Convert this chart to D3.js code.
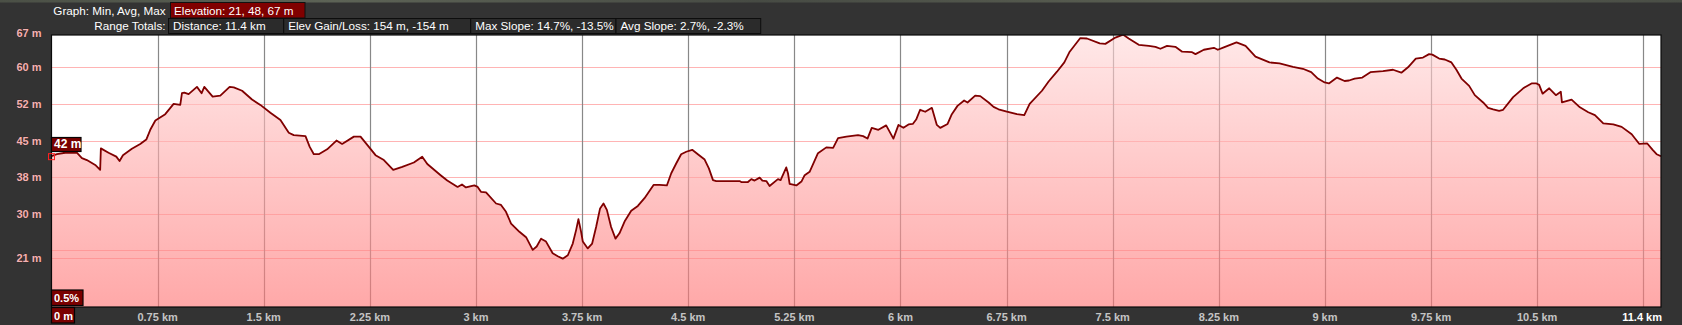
<!DOCTYPE html>
<html>
<head>
<meta charset="utf-8">
<script src="https://cdn.jsdelivr.net/npm/d3@7"></script>
<style>
  html, body { margin: 0; padding: 0; background: #333333; overflow: hidden; }
  svg { display: block; font-family: "Liberation Sans", Arial, sans-serif; }
</style>
</head>
<body>
<div id="chart"></div>
<script>
// elevation profile (km, m)
const distKm = [
  0.000, 0.038, 0.097, 0.179, 0.215, 0.250, 0.309, 0.344, 0.349, 0.403,
  0.458, 0.481, 0.505, 0.568, 0.627, 0.670, 0.698, 0.734, 0.804, 0.863,
  0.910, 0.922, 0.939, 0.969, 1.028, 1.061, 1.080, 1.139, 1.193, 1.259,
  1.288, 1.347, 1.417, 1.476, 1.547, 1.618, 1.677, 1.712, 1.795, 1.825,
  1.854, 1.889, 1.948, 2.014, 2.054, 2.137, 2.184, 2.243, 2.290, 2.349,
  2.415, 2.479, 2.561, 2.620, 2.656, 2.750, 2.797,
  2.870, 2.901, 2.929, 2.988, 3.012, 3.035, 3.071, 3.142, 3.177, 3.212,
  3.248, 3.307, 3.354, 3.401, 3.429, 3.460, 3.495, 3.542, 3.578, 3.613,
  3.649, 3.684, 3.708, 3.724, 3.743, 3.755, 3.790, 3.821, 3.849, 3.877,
  3.901, 3.925, 3.955, 3.986, 4.014, 4.050, 4.097, 4.144, 4.191, 4.255,
  4.297, 4.349, 4.380, 4.415, 4.450, 4.486, 4.528, 4.568, 4.616, 4.646,
  4.675, 4.698, 4.863, 4.875, 4.922, 4.946, 4.969, 5.005, 5.024, 5.052,
  5.075, 5.134, 5.153, 5.193, 5.205, 5.217, 5.264, 5.300, 5.323, 5.358,
  5.417, 5.476, 5.524, 5.559, 5.618, 5.700, 5.736,
  5.767, 5.797, 5.844, 5.899, 5.950, 5.986, 6.021, 6.057, 6.087, 6.111,
  6.139, 6.175, 6.222, 6.257, 6.281, 6.333, 6.363, 6.403, 6.450, 6.474,
  6.528, 6.564, 6.623, 6.658, 6.693, 6.752, 6.823, 6.875, 6.913, 7.000,
  7.047, 7.106, 7.158, 7.196, 7.271, 7.318, 7.408, 7.448, 7.519, 7.573,
  7.613, 7.684, 7.755, 7.802, 7.837, 7.884, 7.943, 7.991, 8.061, 8.085,
  8.144, 8.215, 8.243, 8.285, 8.375, 8.439, 8.509,
  8.608, 8.679, 8.774, 8.844, 8.903, 8.950, 8.998, 9.028, 9.085, 9.139,
  9.170, 9.210, 9.264, 9.321, 9.410, 9.481, 9.540, 9.587, 9.642, 9.693,
  9.736, 9.759, 9.807, 9.847, 9.894, 9.929, 9.965, 10.019, 10.059, 10.118,
  10.153, 10.189, 10.231, 10.259, 10.330, 10.401, 10.460, 10.495, 10.514, 10.538,
  10.585, 10.632, 10.667, 10.675, 10.743, 10.802, 10.861, 10.908, 10.967, 11.038,
  11.097, 11.168, 11.222, 11.278, 11.316, 11.344, 11.375
];
const elevM = [
  41.8, 42.2, 42.5, 42.5, 41.4, 41.0, 40.0, 39.0, 43.4, 42.5,
  41.7, 40.8, 42.0, 43.3, 44.3, 45.2, 47.2, 49.1, 50.4, 52.5,
  52.3, 54.7, 54.8, 54.5, 56.0, 54.7, 56.0, 54.0, 54.2, 56.0,
  55.9, 55.2, 53.4, 52.3, 50.7, 49.2, 46.6, 46.1, 45.9, 43.7,
  42.2, 42.2, 43.2, 45.0, 44.3, 45.8, 45.8, 43.7, 42.0, 41.0,
  39.0, 39.6, 40.5, 41.7, 40.2, 37.9, 36.8,
  35.5, 36.0, 35.4, 35.8, 35.5, 34.5, 34.4, 32.1, 31.8, 30.4,
  28.0, 26.3, 25.2, 22.6, 23.3, 24.9, 24.3, 21.9, 21.3, 20.8,
  21.5, 23.9, 26.7, 28.9, 26.3, 24.3, 22.9, 23.9, 27.3, 31.1,
  32.1, 30.8, 27.3, 24.9, 26.0, 28.4, 30.6, 31.6, 33.2, 35.9,
  35.9, 35.8, 38.3, 40.3, 42.2, 42.7, 43.1, 42.2, 41.1, 39.3,
  36.9, 36.7, 36.7, 36.5, 36.5, 37.1, 36.8, 37.4, 36.8, 36.7,
  35.7, 37.1, 36.9, 39.5, 38.3, 36.1, 35.8, 36.6, 37.9, 38.6,
  42.4, 43.6, 43.5, 45.5, 45.8, 46.1, 45.9,
  45.4, 47.6, 47.2, 48.1, 45.4, 48.2, 47.6, 48.3, 48.4, 49.3,
  51.3, 50.9, 51.7, 48.2, 47.6, 48.4, 50.4, 52.1, 53.2, 52.8,
  54.2, 54.1, 52.8, 51.9, 51.4, 50.9, 50.4, 50.2, 52.5, 55.2,
  57.1, 59.1, 61.0, 63.2, 66.0, 65.9, 64.9, 64.8, 66.1, 66.7,
  65.9, 64.6, 64.4, 64.2, 63.8, 64.4, 64.2, 63.2, 63.1, 62.7,
  63.6, 64.0, 63.6, 64.1, 65.1, 64.4, 62.2,
  61.0, 60.8, 60.1, 59.7, 59.0, 57.7, 56.9, 56.7, 57.9, 57.2,
  57.3, 57.7, 57.9, 59.0, 59.2, 59.5, 58.9, 60.0, 61.8, 62.0,
  62.7, 62.6, 61.8, 61.6, 61.0, 59.5, 57.7, 56.2, 54.3, 52.8,
  51.7, 51.4, 51.1, 51.3, 53.9, 55.7, 56.7, 56.7, 56.4, 54.6,
  55.7, 54.3, 55.0, 52.8, 53.4, 51.8, 50.8, 50.2, 48.5, 48.3,
  47.8, 46.3, 44.3, 44.4, 43.1, 42.2, 41.8
];

// axis ticks
const xTicks = [0.75, 1.5, 2.25, 3, 3.75, 4.5, 5.25, 6, 6.75, 7.5, 8.25, 9, 9.75, 10.5, 11.25];
const xTickLabels = ["0.75 km", "1.5 km", "2.25 km", "3 km", "3.75 km", "4.5 km", "5.25 km",
  "6 km", "6.75 km", "7.5 km", "8.25 km", "9 km", "9.75 km", "10.5 km", ""];
const yTicks = [60, 52.5, 45, 37.5, 30, 22.5];
const yTickLabels = ["60 m", "52 m", "45 m", "38 m", "30 m", ""];
const minMaxValues = [21, 67];
const minMaxLabels = ["21 m", "67 m"];

// header boxes
const headerRow1 = ["Elevation: 21, 48, 67 m"];
const headerRow2 = ["Distance: 11.4 km", "Elev Gain/Loss: 154 m, -154 m",
  "Max Slope: 14.7%, -13.5%", "Avg Slope: 2.7%, -2.3%"];
const headerRow2Edges = [168.5, 283.7, 470.7, 616, 760.7];

const W = 1682, H = 325;
const plot = { left: 51.5, right: 1661, top: 35, bottom: 307 };

const data = distKm.map((d, i) => ({ km: d, m: elevM[i] }));

const x = d3.scaleLinear().domain([0, 11.375]).range([plot.left, plot.right]);
const y = d3.scaleLinear().domain([10.9, 66.62]).range([plot.bottom, plot.top]);

const svg = d3.select("#chart").append("svg")
  .attr("width", W)
  .attr("height", H);

svg.append("rect").attr("width", W).attr("height", H).attr("fill", "#333333");

const defs = svg.append("defs");

// thin map strip at very top
const strip = defs.append("linearGradient").attr("id", "strip");
[["0%", "#4b5046"], ["20%", "#5d6356"], ["45%", "#474b44"], ["70%", "#5a5f52"], ["100%", "#4a4e46"]]
  .forEach(s => strip.append("stop").attr("offset", s[0]).attr("stop-color", s[1]));
svg.append("rect").attr("x", 0).attr("y", 0).attr("width", W).attr("height", 2.5)
  .attr("fill", "url(#strip)");

const fillGrad = defs.append("linearGradient")
  .attr("id", "fillGrad")
  .attr("gradientUnits", "userSpaceOnUse")
  .attr("x1", 0).attr("x2", 0)
  .attr("y1", plot.top).attr("y2", plot.bottom);
fillGrad.append("stop").attr("offset", "0%").attr("stop-color", "rgb(255,218,218)").attr("stop-opacity", 0.62);
fillGrad.append("stop").attr("offset", "100%").attr("stop-color", "rgb(255,115,115)").attr("stop-opacity", 0.62);

defs.append("clipPath").attr("id", "plotClip")
  .append("rect")
  .attr("x", plot.left).attr("y", plot.top)
  .attr("width", plot.right - plot.left).attr("height", plot.bottom - plot.top);

// header
const headFont = "11.7px";

svg.append("text")
  .attr("x", 165.5).attr("y", 14.5)
  .attr("text-anchor", "end")
  .attr("fill", "#ffffff")
  .style("font-size", headFont)
  .text("Graph: Min, Avg, Max");

svg.append("text")
  .attr("x", 165.5).attr("y", 30.2)
  .attr("text-anchor", "end")
  .attr("fill", "#ffffff")
  .style("font-size", headFont)
  .text("Range Totals:");

svg.append("rect")
  .attr("x", 170.5).attr("y", 2.5).attr("width", 134.5).attr("height", 15.5)
  .attr("fill", "#800000").attr("stroke", "#111").attr("stroke-width", 1);
svg.append("text")
  .attr("x", 174).attr("y", 14.5)
  .attr("fill", "#ffffff")
  .style("font-size", headFont)
  .text(headerRow1[0]);

headerRow2.forEach((t, i) => {
  const x0 = headerRow2Edges[i], x1 = headerRow2Edges[i + 1];
  svg.append("rect")
    .attr("x", x0).attr("y", 18.5).attr("width", x1 - x0).attr("height", 15)
    .attr("fill", "#2b2b2b").attr("stroke", "#0d0d0d").attr("stroke-width", 1);
  svg.append("text")
    .attr("x", x0 + 4.5).attr("y", 30.2)
    .attr("fill", "#ffffff")
    .style("font-size", headFont)
    .text(t);
});

// plot background
svg.append("rect")
  .attr("x", plot.left).attr("y", plot.top)
  .attr("width", plot.right - plot.left).attr("height", plot.bottom - plot.top)
  .attr("fill", "#ffffff");

const grid = svg.append("g").attr("clip-path", "url(#plotClip)");

grid.selectAll("line.hgrid")
  .data(yTicks.concat(minMaxValues))
  .enter().append("line")
  .attr("class", "hgrid")
  .attr("x1", plot.left).attr("x2", plot.right)
  .attr("y1", d => Math.round(y(d)) + 0.5)
  .attr("y2", d => Math.round(y(d)) + 0.5)
  .attr("stroke", "#ffb4b4")
  .attr("stroke-width", 1.2);

grid.selectAll("line.vgrid")
  .data(xTicks)
  .enter().append("line")
  .attr("class", "vgrid")
  .attr("x1", d => Math.round(x(d)) + 0.5)
  .attr("x2", d => Math.round(x(d)) + 0.5)
  .attr("y1", plot.top).attr("y2", plot.bottom)
  .attr("stroke", "#888888")
  .attr("stroke-width", 1.2);

const area = d3.area()
  .x(d => x(d.km))
  .y0(plot.bottom)
  .y1(d => y(d.m));

const line = d3.line()
  .x(d => x(d.km))
  .y(d => y(d.m));

const chart = svg.append("g").attr("clip-path", "url(#plotClip)");

chart.append("path")
  .datum(data)
  .attr("d", area)
  .attr("fill", "url(#fillGrad)");

chart.append("path")
  .datum(data)
  .attr("d", line)
  .attr("fill", "none")
  .attr("stroke", "#800000")
  .attr("stroke-width", 1.8)
  .attr("stroke-linejoin", "round");

// plot frame
svg.append("rect")
  .attr("x", plot.left).attr("y", plot.top)
  .attr("width", plot.right - plot.left).attr("height", plot.bottom - plot.top)
  .attr("fill", "none")
  .attr("stroke", "#0a0a0a")
  .attr("stroke-width", 1.2);

// y labels
const yLabelData = yTicks.map((v, i) => ({ v: v, t: yTickLabels[i] }))
  .concat(minMaxValues.map((v, i) => ({ v: v, t: minMaxLabels[i] })))
  .filter(d => d.t !== "");

svg.selectAll("text.ylab")
  .data(yLabelData)
  .enter().append("text")
  .attr("class", "ylab")
  .attr("x", 41.5)
  .attr("y", d => y(d.v) + 4)
  .attr("text-anchor", "end")
  .attr("fill", "#f2b2b2")
  .attr("stroke", "#3a1a1a")
  .attr("stroke-width", 0.6)
  .attr("paint-order", "stroke")
  .style("font-size", "11px")
  .style("font-weight", "bold")
  .text(d => d.t);

// x labels
svg.selectAll("text.xlab")
  .data(xTicks.map((v, i) => ({ v: v, t: xTickLabels[i] })).filter(d => d.t !== ""))
  .enter().append("text")
  .attr("class", "xlab")
  .attr("x", d => x(d.v))
  .attr("y", 320.5)
  .attr("text-anchor", "middle")
  .attr("fill", "#c4c4c4")
  .style("font-size", "11px")
  .style("font-weight", "bold")
  .text(d => d.t);

svg.append("text")
  .attr("x", plot.right + 1)
  .attr("y", 320.5)
  .attr("text-anchor", "end")
  .attr("fill", "#ffffff")
  .style("font-size", "11px")
  .style("font-weight", "bold")
  .text("11.4 km");

// cursor info boxes
function infoBox(x0, y0, w, h, label, size) {
  svg.append("rect")
    .attr("x", x0).attr("y", y0).attr("width", w).attr("height", h)
    .attr("fill", "#7a0000")
    .attr("stroke", "#050505")
    .attr("stroke-width", 1.2);
  svg.append("text")
    .attr("x", x0 + 2.5).attr("y", y0 + h - 3.5)
    .attr("fill", "#ffffff")
    .style("font-size", size)
    .style("font-weight", "bold")
    .text(label);
}

infoBox(51.5, 307.5, 23, 15.5, "0 m", "11px");
infoBox(51.5, 290, 31.5, 15.5, "0.5%", "11px");

const start = data[0];
infoBox(51.5, 137.5, 29.5, 14, "42 m", "12px");

svg.append("rect")
  .attr("x", x(start.km) - 3).attr("y", y(start.m) - 2.5)
  .attr("width", 6).attr("height", 6)
  .attr("fill", "none")
  .attr("stroke", "#ff2020")
  .attr("stroke-width", 1);
</script>
</body>
</html>
